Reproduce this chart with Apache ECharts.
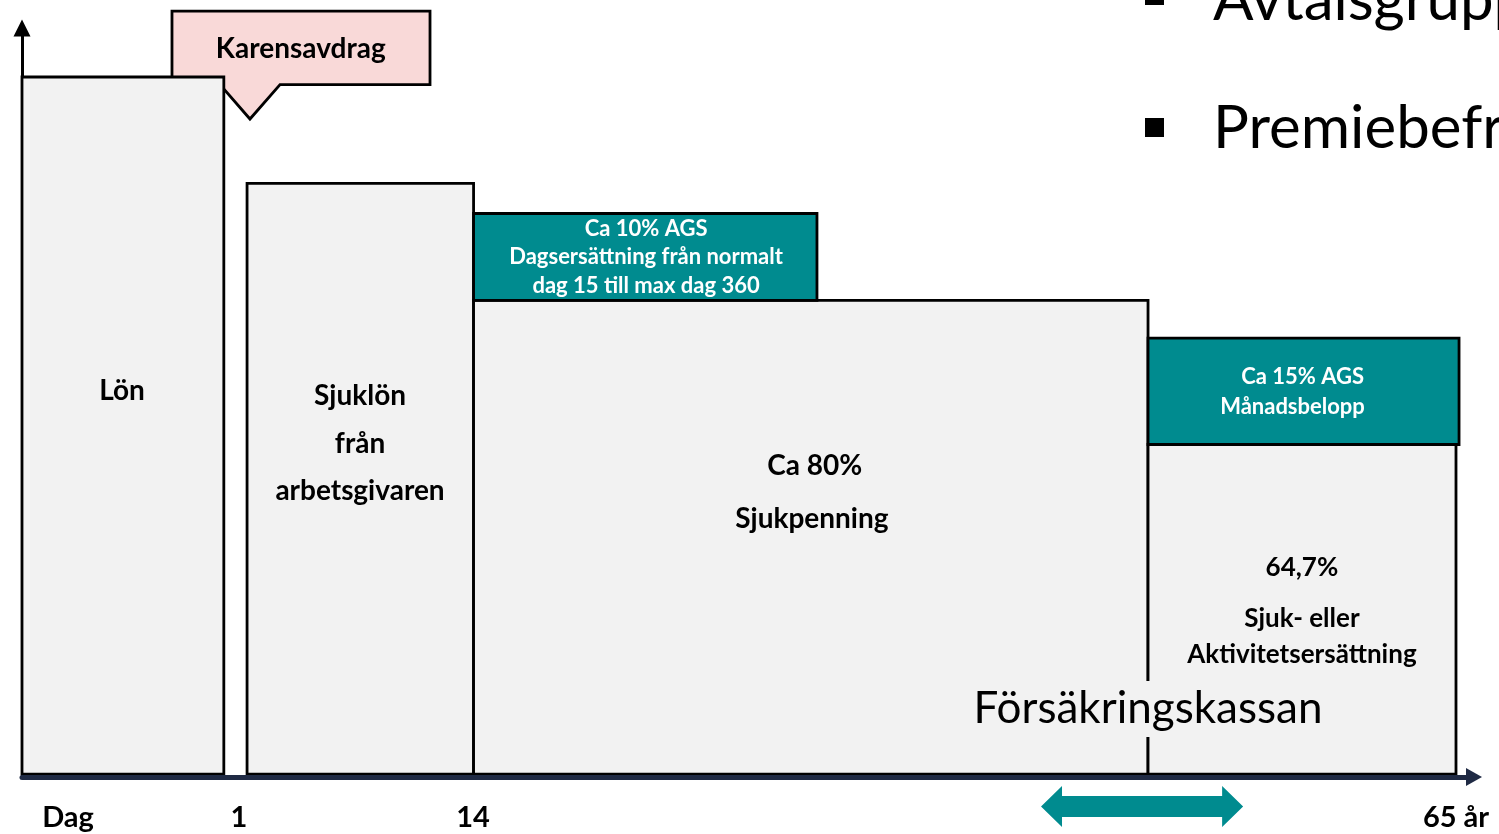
<!DOCTYPE html>
<html lang="sv">
<head>
<meta charset="UTF-8" />
<title>Sjukförsäkring</title>
<script src="https://cdn.jsdelivr.net/npm/echarts@6.0.0/dist/echarts.min.js"></script>
<style>
  html, body { margin: 0; padding: 0; background: #fff; }
  #main { width: 1499px; height: 834px; }
</style>
</head>
<body>
<div id="main"></div>
<script>
// schematisk tidslinje, x 0-100, y 0-107 (Lön = 100)
var tickValues = [3.17, 14.94, 31.06, 98.76];
var tickLabels = ['Dag', '1', '14', '65 år'];

// grå block: [x från, x till, y från, y till]
var greyBoxes = [
  [0, 13.9, 0.4, 100],       // Lön
  [15.5, 31.1, 0.4, 84.8],   // Sjuklön
  [31.1, 77.55, 0.4, 68.1],  // Sjukpenning
  [77.55, 98.76, 0.4, 47.5]  // Sjuk- eller aktivitetsersättning
];
// AGS ovanpå
var agsBoxes = [
  [31.1, 54.75, 68.1, 80.5],
  [77.55, 98.97, 47.5, 62.7]
];
// pratbubbla: [x från, x till, y botten, y topp, spets bas vänster, spets bas höger, spets x, spets y]
var callout = [[10.33, 28.1, 98.9, 109.4, 13.64, 17.77, 15.7, 94.0]];
// dubbelpil under axeln: [x från, x till, y]
var rangeArrow = [[70.18, 84.1, -4.2]];

// texter: [x, y, text]
var bigLabels = [
  [6.89, 55.1, 'Lön'],
  [23.28, 54.5, 'Sjuklön'],
  [23.28, 47.6, 'från'],
  [23.28, 40.8, 'arbetsgivaren'],
  [54.6, 44.5, 'Ca 80%'],
  [54.4, 36.8, 'Sjukpenning'],
  [19.2, 104.0, 'Karensavdrag']
];
var midLabels = [
  [88.15, 29.9, '64,7%'],
  [88.15, 22.6, 'Sjuk- eller'],
  [88.15, 17.5, 'Aktivitetsersättning']
];
var agsLabels = [
  [42.98, 78.3, 'Ca 10% AGS'],
  [42.98, 74.3, 'Dagsersättning från normalt'],
  [42.98, 70.1, 'dag 15 till max dag 360'],
  [88.2, 57.1, 'Ca 15% AGS'],
  [87.5, 52.9, 'Månadsbelopp']
];
var kassaLabel = [[77.55, 9.7, 'Försäkringskassan']];

var FONT = 'Lato';

function boxRenderer(fill) {
  return function (params, api) {
    var p0 = api.coord([api.value(0), api.value(3)]);
    var p1 = api.coord([api.value(1), api.value(2)]);
    return {
      type: 'rect',
      shape: { x: p0[0], y: p0[1], width: p1[0] - p0[0], height: p1[1] - p0[1] },
      style: { fill: fill, stroke: '#000', lineWidth: 2.8 }
    };
  };
}

function textRenderer(size, weight, color, bg) {
  return function (params, api) {
    var p = api.coord([api.value(0), api.value(1)]);
    var style = {
      text: api.value(2),
      fill: color,
      fontSize: size,
      fontWeight: weight,
      fontFamily: FONT,
      align: 'center',
      verticalAlign: 'middle'
    };
    if (bg) {
      style.backgroundColor = bg;
      style.padding = [6, 2];
    }
    return { type: 'text', x: p[0], y: p[1], style: style };
  };
}

var myChart = echarts.init(document.getElementById('main'));

var option = {
  animation: false,
  grid: { left: 22, right: 25, top: 28, bottom: 57 },
  xAxis: {
    type: 'value',
    min: 0,
    max: 100,
    z: 5,
    splitLine: { show: false },
    axisTick: { show: false },
    axisLine: {
      symbol: ['none', 'triangle'],
      symbolSize: [18, 16],
      lineStyle: { color: '#1f2a44', width: 5 }
    },
    axisLabel: {
      customValues: tickValues,
      formatter: function (v) {
        var i = tickValues.indexOf(v);
        return i >= 0 ? tickLabels[i] : '';
      },
      margin: 26,
      color: '#000',
      fontSize: 29,
      fontWeight: 'bold',
      fontFamily: FONT
    }
  },
  yAxis: {
    type: 'value',
    min: 0,
    max: 107,
    splitLine: { show: false },
    axisTick: { show: false },
    axisLabel: { show: false },
    axisLine: {
      symbol: ['none', 'triangle'],
      symbolSize: [17, 17],
      lineStyle: { color: '#000', width: 3 }
    }
  },
  series: [
    {
      // Karensavdrag-bubblan, under Lön-blocket
      type: 'custom',
      clip: false,
      data: callout,
      renderItem: function (params, api) {
        var bl = api.coord([api.value(0), api.value(2)]);
        var tr = api.coord([api.value(1), api.value(3)]);
        var b1 = api.coord([api.value(4), api.value(2)]);
        var b2 = api.coord([api.value(5), api.value(2)]);
        var tip = api.coord([api.value(6), api.value(7)]);
        return {
          type: 'polygon',
          shape: { points: [
            [bl[0], tr[1]], [tr[0], tr[1]], [tr[0], bl[1]],
            b2, tip, b1, [bl[0], bl[1]]
          ] },
          style: { fill: '#f9d9d8', stroke: '#000', lineWidth: 2.8 }
        };
      }
    },
    { type: 'custom', clip: false, data: greyBoxes, renderItem: boxRenderer('#f2f2f2') },
    { type: 'custom', clip: false, data: agsBoxes, renderItem: boxRenderer('#008b8f') },
    {
      type: 'custom',
      clip: false,
      data: rangeArrow,
      renderItem: function (params, api) {
        var a = api.coord([api.value(0), api.value(2)]);
        var b = api.coord([api.value(1), api.value(2)]);
        var c = a[1], hl = 21, hh = 20.5, sh = 10.5;
        return {
          type: 'polygon',
          shape: { points: [
            [a[0], c], [a[0] + hl, c - hh], [a[0] + hl, c - sh], [b[0] - hl, c - sh],
            [b[0] - hl, c - hh], [b[0], c], [b[0] - hl, c + hh], [b[0] - hl, c + sh],
            [a[0] + hl, c + sh], [a[0] + hl, c + hh]
          ] },
          style: { fill: '#008b8f' }
        };
      }
    },
    { type: 'custom', clip: false, data: bigLabels, renderItem: textRenderer(28, 'bold', '#000') },
    { type: 'custom', clip: false, data: midLabels, renderItem: textRenderer(26, 'bold', '#000') },
    { type: 'custom', clip: false, data: agsLabels, renderItem: textRenderer(22, 'bold', '#fff') },
    { type: 'custom', clip: false, data: kassaLabel, renderItem: textRenderer(44, 'normal', '#000', '#f2f2f2') }
  ],
  graphic: [
    { type: 'rect', shape: { x: 1145, y: -14, width: 19, height: 19 }, style: { fill: '#000' } },
    { type: 'text', x: 1213, y: 1, style: { text: 'Avtalsgruppsjukförsäkring', fill: '#000', fontSize: 60, fontFamily: FONT, verticalAlign: 'middle' } },
    { type: 'rect', shape: { x: 1145, y: 118, width: 19, height: 19 }, style: { fill: '#000' } },
    { type: 'text', x: 1213, y: 129, style: { text: 'Premiebefrielseförsäkring', fill: '#000', fontSize: 60, fontFamily: FONT, verticalAlign: 'middle' } }
  ]
};

myChart.setOption(option);
</script>
</body>
</html>
